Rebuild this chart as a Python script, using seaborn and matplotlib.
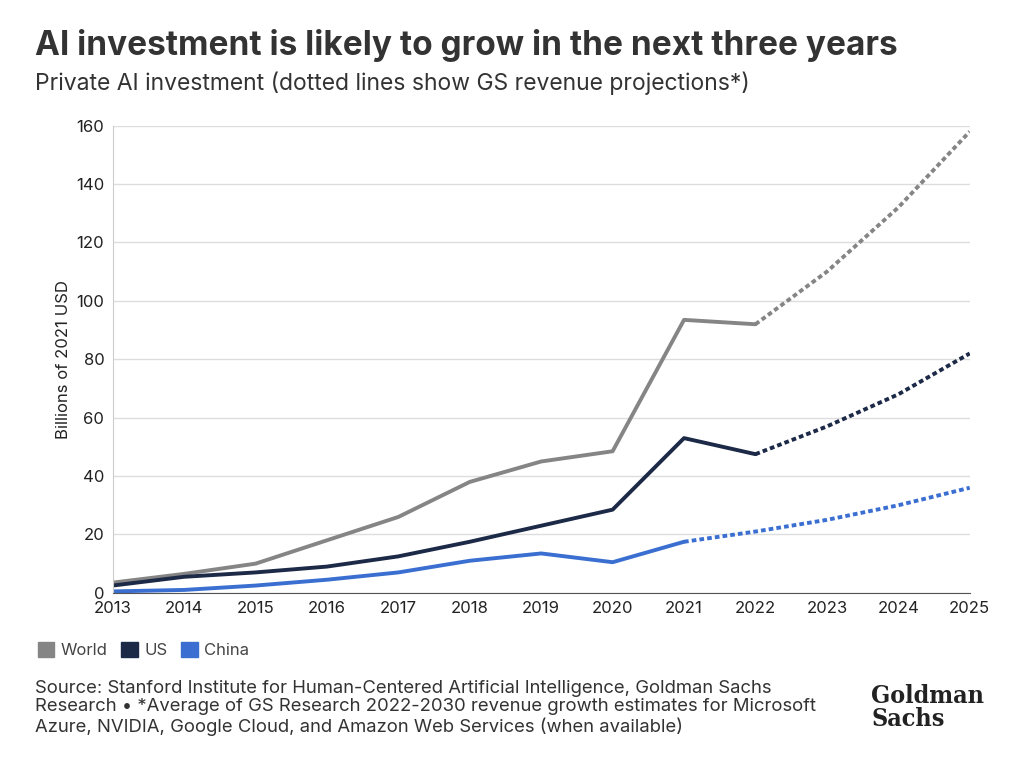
import numpy as np
import pandas as pd
import seaborn as sns
import matplotlib.pyplot as plt
from matplotlib.patches import Patch

#------------------------------------------------------------------------------
# Data (billions of 2021 USD)
#------------------------------------------------------------------------------

years_hist = [2013, 2014, 2015, 2016, 2017, 2018, 2019, 2020, 2021, 2022]
world_hist = [3.5, 6.5, 10, 18, 26, 38, 45, 48.5, 93.5, 92]
us_hist = [2.5, 5.5, 7, 9, 12.5, 17.5, 23, 28.5, 53, 47.5]
years_proj = [2022, 2023, 2024, 2025]
world_proj = [92, 110, 132, 158]
us_proj = [47.5, 57, 68, 82]
china_years_hist = [2013, 2014, 2015, 2016, 2017, 2018, 2019, 2020, 2021]
china_hist = [0.5, 1, 2.5, 4.5, 7, 11, 13.5, 10.5, 17.5]
china_years_proj = [2021, 2022, 2023, 2024, 2025]
china_proj = [17.5, 21, 25, 30, 36]

colors = {'World': '#858585', 'US': '#1c2a48', 'China': '#3a6fd1'}

#------------------------------------------------------------------------------
# Plot
#------------------------------------------------------------------------------

sns.set_style('white')
plt.rcParams['font.family'] = ['Inter', 'DejaVu Sans']

fig = plt.figure(figsize=(10.24, 7.76), dpi=100)
ax = fig.add_axes([0.11, 0.236, 0.837, 0.602])

series = [('World', years_hist, world_hist, years_proj, world_proj),
          ('US', years_hist, us_hist, years_proj, us_proj),
          ('China', china_years_hist, china_hist, china_years_proj, china_proj)]
for name, xh, yh, xp, yp in series:
    sns.lineplot(x=xh, y=yh, ax=ax, color=colors[name], linewidth=2.8)
    sns.lineplot(x=xp, y=yp, ax=ax, color=colors[name], linewidth=2.8, linestyle=(0, (1.2, 0.8)))

ax.set_xlim(2013, 2025)
ax.set_ylim(0, 160)
ax.set_xticks(range(2013, 2026))
ax.set_yticks(range(0, 161, 20))
ax.tick_params(labelsize=12, colors='#222222', length=0, pad=6)
ax.grid(axis='y', color='#dddddd', linewidth=1)
for s in ['top', 'right']:
    ax.spines[s].set_visible(False)
ax.spines['left'].set_color('#cccccc')
ax.spines['bottom'].set_color('#555555')
ax.set_ylabel('Billions of 2021 USD', fontsize=12, color='#222222')

fig.text(0.034, 0.942, 'AI investment is likely to grow in the next three years',
         fontsize=24, fontweight='bold', color='#333333', va='center')
fig.text(0.034, 0.893, 'Private AI investment (dotted lines show GS revenue projections*)',
         fontsize=16.5, color='#333333', va='center')

handles = [Patch(color=colors[k], label=k) for k in ['World', 'US', 'China']]
fig.legend(handles=handles, loc='center left', bbox_to_anchor=(0.022, 0.162), ncol=3,
           frameon=False, fontsize=12, handlelength=1.0, handleheight=1.0,
           handletextpad=0.4, columnspacing=0.8, labelcolor='#444444')

fig.text(0.034, 0.088,
         'Source: Stanford Institute for Human-Centered Artificial Intelligence, Goldman Sachs\n'
         'Research • *Average of GS Research 2022-2030 revenue growth estimates for Microsoft\n'
         'Azure, NVIDIA, Google Cloud, and Amazon Web Services (when available)',
         fontsize=13.3, color='#333333', va='center', linespacing=1.12)
fig.text(0.851, 0.088, 'Goldman\nSachs', fontsize=18, fontweight='bold', family='DejaVu Serif',
         color='#222222', va='center', linespacing=0.95, fontstretch='condensed')

fig.savefig('out.png', dpi=100)
